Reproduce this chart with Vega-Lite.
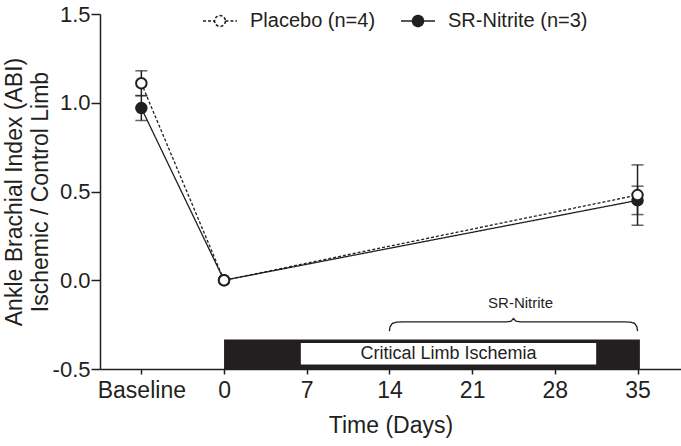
{
  "$schema": "https://vega.github.io/schema/vega-lite/v6.json",
  "width": 681,
  "height": 446,
  "autosize": {"type": "fit", "contains": "padding"},
  "padding": {"left": 3, "top": 3, "right": 0, "bottom": 9},
  "background": "white",
  "config": {
    "view": {"stroke": null},
    "axis": {
      "domainColor": "#231f20",
      "tickColor": "#231f20",
      "labelColor": "#231f20",
      "titleColor": "#231f20",
      "domainWidth": 1.5,
      "tickWidth": 1.5,
      "labelFont": "Liberation Sans",
      "titleFont": "Liberation Sans",
      "labelFontSize": 23,
      "titleFontSize": 23,
      "titleFontWeight": "normal",
      "grid": false
    },
    "legend": {
      "labelFont": "Liberation Sans",
      "labelFontSize": 20,
      "labelColor": "#231f20"
    }
  },
  "datasets": {
    "abi": [
      {"series": "SR-Nitrite (n=3)", "day": -7, "abi": 0.97, "lo": 0.9, "hi": 1.04},
      {"series": "SR-Nitrite (n=3)", "day": 0, "abi": 0.0, "lo": null, "hi": null},
      {"series": "SR-Nitrite (n=3)", "day": 35, "abi": 0.45, "lo": 0.37, "hi": 0.53},
      {"series": "Placebo (n=4)", "day": -7, "abi": 1.11, "lo": 1.04, "hi": 1.18},
      {"series": "Placebo (n=4)", "day": 0, "abi": 0.0, "lo": null, "hi": null},
      {"series": "Placebo (n=4)", "day": 35, "abi": 0.48, "lo": 0.31, "hi": 0.65}
    ],
    "timeline": [
      {"phase": "Hindlimb ischemia", "day": 0, "day_end": 35.2, "abi": -0.5, "abi_end": -0.334}
    ],
    "cli": [
      {"label": "Critical Limb Ischemia", "day": 6.5, "day_end": 31.5, "abi": -0.475, "abi_end": -0.354, "center": 19, "mid": -0.416}
    ],
    "brace": [
      {"i": 1, "day": 14, "abi": -0.287},
      {"i": 2, "day": 14.05, "abi": -0.262},
      {"i": 3, "day": 14.25, "abi": -0.243},
      {"i": 4, "day": 14.6, "abi": -0.236},
      {"i": 5, "day": 15.2, "abi": -0.235},
      {"i": 6, "day": 23.9, "abi": -0.235},
      {"i": 7, "day": 24.3, "abi": -0.231},
      {"i": 8, "day": 24.5, "abi": -0.216},
      {"i": 9, "day": 24.7, "abi": -0.231},
      {"i": 10, "day": 25.1, "abi": -0.235},
      {"i": 11, "day": 33.8, "abi": -0.235},
      {"i": 12, "day": 34.4, "abi": -0.236},
      {"i": 13, "day": 34.75, "abi": -0.243},
      {"i": 14, "day": 34.95, "abi": -0.262},
      {"i": 15, "day": 35, "abi": -0.287}
    ],
    "braceLabel": [
      {"label": "SR-Nitrite", "day": 25.1, "abi": -0.157}
    ]
  },
  "layer": [
    {
      "data": {"name": "abi"},
      "mark": {"type": "line", "color": "#231f20", "strokeWidth": 1.3},
      "encoding": {
        "x": {
          "field": "day", "type": "quantitative",
          "scale": {"domain": [-10.5, 38.68], "nice": false, "zero": false},
          "axis": {
            "values": [-7, 0, 7, 14, 21, 28, 35],
            "labelExpr": "datum.value == -7 ? 'Baseline' : datum.label",
            "tickSize": 5,
            "labelPadding": 5,
            "labelOverlap": false,
            "title": "Time (Days)",
            "titlePadding": 12
          }
        },
        "y": {
          "field": "abi", "type": "quantitative",
          "scale": {"domain": [-0.5, 1.5], "nice": false, "zero": false},
          "axis": {
            "values": [-0.5, 0, 0.5, 1, 1.5],
            "labelExpr": "datum.value < 0 ? '-0.5' : format(datum.value, '.1f')",
            "tickSize": 9,
            "labelPadding": 1,
            "labelOverlap": false,
            "labelFontSize": 22,
            "title": ["Ankle Brachial Index (ABI)", "Ischemic / Control Limb"],
            "titleLineHeight": 26,
            "titlePadding": 0
          }
        },
        "strokeDash": {
          "field": "series", "type": "nominal",
          "scale": {"domain": ["Placebo (n=4)", "SR-Nitrite (n=3)"], "range": [[3, 2], [1, 0]]},
          "legend": {
            "title": null,
            "orient": "none",
            "legendX": 102,
            "legendY": -11,
            "direction": "horizontal",
            "columns": 2,
            "columnPadding": 21,
            "padding": 0,
            "symbolType": "M-1,0L-0.32,0M0.32,0L1,0M0.32,0A0.32,0.32,0,1,1,-0.32,0A0.32,0.32,0,1,1,0.32,0",
            "symbolSize": 1156,
            "symbolStrokeColor": "#231f20",
            "symbolStrokeWidth": 1.6,
            "symbolOpacity": 1,
            "labelOffset": 12,
            "labelFontSize": 20
          }
        }
      }
    },
    {
      "data": {"name": "timeline"},
      "mark": {"type": "rect", "color": "#231f20"},
      "encoding": {
        "x": {"field": "day", "type": "quantitative"},
        "x2": {"field": "day_end"},
        "y": {"field": "abi", "type": "quantitative"},
        "y2": {"field": "abi_end"}
      }
    },
    {
      "data": {"name": "cli"},
      "mark": {"type": "rect", "color": "white"},
      "encoding": {
        "x": {"field": "day", "type": "quantitative"},
        "x2": {"field": "day_end"},
        "y": {"field": "abi", "type": "quantitative"},
        "y2": {"field": "abi_end"}
      }
    },
    {
      "data": {"name": "cli"},
      "mark": {"type": "text", "font": "Liberation Sans", "fontSize": 18, "color": "#231f20", "align": "center", "baseline": "middle"},
      "encoding": {
        "x": {"field": "center", "type": "quantitative"},
        "y": {"field": "mid", "type": "quantitative"},
        "text": {"field": "label"}
      }
    },
    {
      "data": {"name": "brace"},
      "mark": {"type": "line", "color": "#231f20", "strokeWidth": 1.3, "interpolate": "linear"},
      "encoding": {
        "x": {"field": "day", "type": "quantitative"},
        "y": {"field": "abi", "type": "quantitative"},
        "order": {"field": "i"}
      }
    },
    {
      "data": {"name": "braceLabel"},
      "mark": {"type": "text", "font": "Liberation Sans", "fontSize": 15, "color": "#231f20", "align": "center", "baseline": "alphabetic"},
      "encoding": {
        "x": {"field": "day", "type": "quantitative"},
        "y": {"field": "abi", "type": "quantitative"},
        "text": {"field": "label"}
      }
    },
    {
      "data": {"name": "abi"},
      "transform": [{"filter": "datum.lo != null"}],
      "mark": {"type": "rule", "color": "#231f20", "strokeWidth": 1.5},
      "encoding": {
        "x": {"field": "day", "type": "quantitative"},
        "y": {"field": "lo", "type": "quantitative"},
        "y2": {"field": "hi"}
      }
    },
    {
      "data": {"name": "abi"},
      "transform": [{"filter": "datum.lo != null"}],
      "mark": {"type": "tick", "orient": "horizontal", "color": "#231f20", "thickness": 1.5, "size": 12},
      "encoding": {
        "x": {"field": "day", "type": "quantitative"},
        "y": {"field": "lo", "type": "quantitative"}
      }
    },
    {
      "data": {"name": "abi"},
      "transform": [{"filter": "datum.lo != null"}],
      "mark": {"type": "tick", "orient": "horizontal", "color": "#231f20", "thickness": 1.5, "size": 12},
      "encoding": {
        "x": {"field": "day", "type": "quantitative"},
        "y": {"field": "hi", "type": "quantitative"}
      }
    },
    {
      "data": {"name": "abi"},
      "mark": {"type": "point", "shape": "circle", "filled": true, "stroke": "#231f20", "strokeWidth": 2, "size": 110, "opacity": 1},
      "encoding": {
        "x": {"field": "day", "type": "quantitative"},
        "y": {"field": "abi", "type": "quantitative"},
        "fill": {
          "field": "series", "type": "nominal",
          "scale": {"domain": ["Placebo (n=4)", "SR-Nitrite (n=3)"], "range": ["white", "#231f20"]},
          "legend": {
            "title": null,
            "orient": "none",
            "legendX": 102,
            "legendY": -11,
            "direction": "horizontal",
            "columns": 2,
            "columnPadding": 21,
            "padding": 0,
            "symbolType": "M-1,0L-0.32,0M0.32,0L1,0M0.32,0A0.32,0.32,0,1,1,-0.32,0A0.32,0.32,0,1,1,0.32,0",
            "symbolSize": 1156,
            "symbolStrokeColor": "#231f20",
            "symbolStrokeWidth": 1.6,
            "symbolOpacity": 1,
            "labelOffset": 12,
            "labelFontSize": 20
          }
        }
      }
    }
  ]
}
